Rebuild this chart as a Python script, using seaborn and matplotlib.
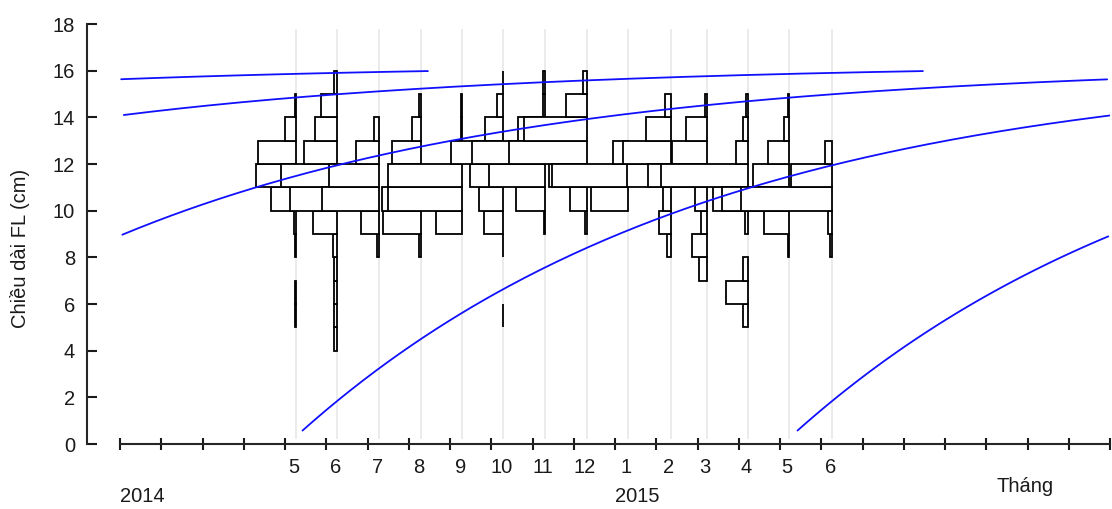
import numpy as np
import pandas as pd
import matplotlib
matplotlib.use("Agg")
import matplotlib.pyplot as plt
import matplotlib.transforms as mtransforms
import seaborn as sns

# ---------------- data ----------------
sample_dates = ["2014-05-09", "2014-06-09", "2014-07-10", "2014-08-10", "2014-09-10",
                "2014-10-10", "2014-11-10", "2014-12-11", "2015-01-11", "2015-02-11",
                "2015-03-08", "2015-04-08", "2015-05-08", "2015-06-09"]
month_labels = ["5", "6", "7", "8", "9", "10", "11", "12", "1", "2", "3", "4", "5", "6"]
year_labels = ["2014", "2015"]
year_starts = ["2014-01-01", "2015-01-01"]

# length classes (lower bound, cm) : 4-5, 5-6, ..., 15-16
class_lower = [4, 5, 6, 7, 8, 9, 10, 11, 12, 13, 14, 15]

# frequencies per sample, one value per class above
freq_2014_05 = [0.0, 0.3, 0.3, 0.0, 0.3, 1.0, 11.8, 19.1, 18.3, 5.3, 0.3, 0.0]
freq_2014_06 = [1.5, 1.5, 1.5, 1.5, 2.2, 11.8, 23.1, 27.5, 16.3, 10.7, 8.1, 1.7]
freq_2014_07 = [0.0, 0.0, 0.0, 0.0, 1.0, 9.2, 27.8, 24.6, 11.3, 2.8, 0.0, 0.0]
freq_2014_08 = [0.0, 0.0, 0.0, 0.0, 1.0, 18.4, 18.9, 13.0, 14.1, 4.4, 0.8, 0.0]
freq_2014_09 = [0.0, 0.0, 0.0, 0.0, 0.0, 12.8, 36.0, 36.0, 4.0, 0.7, 0.7, 0.0]
freq_2014_10 = [0.0, 0.3, 0.0, 0.0, 0.3, 9.5, 11.7, 15.9, 25.1, 8.6, 2.9, 0.3]
freq_2014_11 = [0.0, 0.0, 0.0, 0.0, 0.0, 0.5, 14.1, 27.0, 35.2, 12.9, 1.0, 1.0]
freq_2014_12 = [0.0, 0.0, 0.0, 0.0, 0.0, 1.0, 8.4, 18.6, 38.0, 30.7, 10.2, 1.9]
freq_2015_01 = [0.0, 0.0, 0.0, 0.0, 0.0, 0.0, 18.1, 36.8, 7.6, 0.0, 0.0, 0.0]
freq_2015_02 = [0.0, 0.0, 0.0, 0.0, 1.9, 5.7, 3.7, 21.2, 23.1, 12.1, 2.9, 0.0]
freq_2015_03 = [0.0, 0.0, 0.0, 3.6, 7.3, 2.8, 5.5, 28.6, 17.1, 10.3, 1.0, 0.0]
freq_2015_04 = [0.0, 2.4, 10.9, 2.4, 0.0, 1.6, 17.0, 42.3, 6.1, 2.4, 1.0, 0.0]
freq_2015_05 = [0.0, 0.0, 0.0, 0.0, 0.7, 12.5, 32.6, 17.8, 10.5, 2.4, 0.5, 0.0]
freq_2015_06 = [0.0, 0.0, 0.0, 0.0, 1.0, 2.0, 44.1, 20.0, 3.4, 0.0, 0.0, 0.0]

freqs = [freq_2014_05, freq_2014_06, freq_2014_07, freq_2014_08, freq_2014_09,
         freq_2014_10, freq_2014_11, freq_2014_12, freq_2015_01, freq_2015_02,
         freq_2015_03, freq_2015_04, freq_2015_05, freq_2015_06]

# von Bertalanffy growth parameters
L_inf = 16.3
K_year = 1.2
t0_first = "2014-05-03"          # t0 of the 2014 cohort
cohort_offsets_years = [-3, -2, -1, 0, 1]
age_start_m = 0.36
age_end_m = 39.4

# ---------------- helpers ----------------
def month_pos(d):
    ts = pd.Timestamp(d)
    return (ts.year - 2014) * 12 + ts.month - 1 + (ts.day - 1) / ts.days_in_month

t_samples = [month_pos(d) for d in sample_dates]
bar_scale = 0.05   # months of x-axis per frequency unit

sns.set_style("ticks")
plt.rcParams['font.family'] = ['Liberation Sans', 'DejaVu Sans']

fig = plt.figure(figsize=(11.12, 5.09), dpi=100)
ax = fig.add_axes([87 / 1112, 65 / 509, 1023 / 1112, 420 / 509])

# sample date guide lines
ax.vlines(t_samples, 0.2, 17.8, color="#ebebeb", lw=1.4, zorder=0.5)

# length-frequency histograms (bars extend to the left of sampling date)
for t, f in zip(t_samples, freqs):
    f = np.asarray(f)
    keep = f > 0
    w = f[keep] * bar_scale
    ax.barh(np.asarray(class_lower)[keep], w, left=t - w, height=1.0, align="edge",
            color="white", edgecolor="black", linewidth=1.3, zorder=2)

# growth curves
t0 = month_pos(t0_first)
K_m = K_year / 12
rows = []
for k in cohort_offsets_years:
    c0 = t0 + 12 * k
    tt = np.linspace(c0 + age_start_m, c0 + age_end_m, 400)
    tt = tt[(tt >= 0) & (tt <= 24)]
    LL = L_inf * (1 - np.exp(-K_m * (tt - c0)))
    for a, b in zip(tt, LL):
        rows.append({"t": a, "L": b, "cohort": k})
curves = pd.DataFrame(rows)
sns.lineplot(data=curves, x="t", y="L", units="cohort", estimator=None, sort=False,
             color="#1010ff", lw=1.3, ax=ax, zorder=3, legend=False)

# axes
ax.set_xlim(-0.8, 24)
ax.set_ylim(0, 18)
ax.set_yticks(range(0, 19, 2))
ax.set_xticks(range(0, 25))
ax.set_xticklabels([])
ax.set_xlabel("")
ax.set_ylabel("")
for s in ["top", "right"]:
    ax.spines[s].set_visible(False)
ax.spines["left"].set_linewidth(1.5)
ax.spines["bottom"].set_linewidth(1.5)
ax.spines["bottom"].set_bounds(0, 24)
ax.tick_params(axis="y", direction="in", length=7, width=1.5, pad=8.5,
               labelsize=14.5, colors="#1a1a1a")
ax.tick_params(axis="x", direction="inout", length=8, width=1.5, colors="#1a1a1a")

tr = mtransforms.blended_transform_factory(ax.transData, ax.transAxes)
for t, lab in zip(t_samples, month_labels):
    ax.text(t - 0.05, -0.055, lab, transform=tr, ha="center", va="center",
            fontsize=14.5, color="#1a1a1a")
for d, lab in zip(year_starts, year_labels):
    ax.text(month_pos(d), -0.124, lab, transform=tr, ha="left", va="center",
            fontsize=14.5, color="#1a1a1a")
ax.text(21.24, -0.102, "Tháng", transform=tr, ha="left", va="center",
        fontsize=14.5, color="#1a1a1a")
ax.text(-0.0655, 0.466, "Chiều dài FL (cm)", transform=ax.transAxes, rotation=90,
        ha="center", va="center", fontsize=14.5, color="#1a1a1a")

fig.savefig("out.png", dpi=100)
